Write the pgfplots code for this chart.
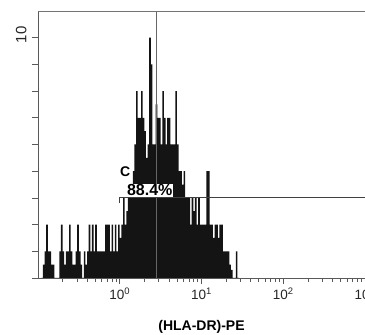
\documentclass[border=0pt]{standalone}
\usepackage{pgfplots}
\pgfplotsset{compat=1.18}
\usepackage{fontspec}
\setmainfont{Liberation Sans}
\begin{document}
\begin{tikzpicture}
\begin{axis}[
  at={(0pt,0pt)}, anchor=south west,
  width=327pt, height=267pt, scale only axis,
  xmin=-1, xmax=3, ymin=0, ymax=10,
  axis lines=left,
  axis line style={-, draw=black!65},
  tick style={draw=black!65, line width=0.6pt},
  tick align=outside,
  major tick length=6pt, minor tick length=4pt,
  xtick={0,1,2,3},
  xticklabels={10\textsuperscript{0},10\textsuperscript{1},10\textsuperscript{2},10\textsuperscript{3}},
  minor xtick={-0.699,-0.523,-0.398,-0.301,-0.222,-0.155,-0.097,-0.046,
               0.301,0.477,0.602,0.699,0.778,0.845,0.903,0.954,
               1.301,1.477,1.602,1.699,1.778,1.845,1.903,1.954,
               2.301,2.477,2.602,2.699,2.778,2.845,2.903,2.954},
  ytick={0,1,2,3,4,5,6,7,8,9},
  yticklabels={,,,,,,,,,10},
  yticklabel style={xshift=-2pt, yshift=3pt, rotate=90, anchor=south, font=\fontsize{15}{15}\selectfont, text=black!85},
  xticklabel style={font=\fontsize{13.5}{13.5}\selectfont, text=black!85},
  xlabel={\bfseries (HLA-DR)-PE},
  xlabel style={at={(axis description cs:0.5,0)}, anchor=center, yshift=-49pt, font=\fontsize{14}{14}\selectfont},
  clip=true,
]
\addplot[const plot, fill=black!92, draw=none] coordinates {
(-0.96,0) (-0.94,0.5) (-0.92,1) (-0.90,2) (-0.88,1) (-0.86,1) (-0.84,0.5) (-0.82,0.5)
(-0.80,0) (-0.78,0) (-0.76,0) (-0.74,1) (-0.72,2) (-0.70,1) (-0.68,0.5) (-0.66,1)
(-0.64,1) (-0.62,2) (-0.60,1) (-0.58,0.5) (-0.56,0.5) (-0.54,1) (-0.52,2) (-0.50,1)
(-0.48,0.5) (-0.46,0) (-0.44,1) (-0.42,0.5) (-0.40,1) (-0.38,2) (-0.36,1) (-0.34,2)
(-0.32,1) (-0.30,2) (-0.28,1) (-0.26,1) (-0.24,1) (-0.22,1) (-0.20,1) (-0.18,2)
(-0.16,2) (-0.14,2) (-0.12,1) (-0.10,2) (-0.08,1) (-0.06,2) (-0.04,1) (-0.02,2)
(0.00,1.5) (0.02,2) (0.04,3) (0.06,2) (0.08,2.5) (0.10,3) (0.12,3) (0.14,3)
(0.16,4) (0.18,5) (0.20,7) (0.22,6) (0.24,6) (0.26,7) (0.28,6) (0.30,5.5)
(0.32,4.5) (0.34,5) (0.36,9) (0.38,8) (0.40,5) (0.42,5) (0.44,6.5) (0.46,6)
(0.48,6) (0.50,5) (0.52,7) (0.54,6) (0.56,5) (0.58,6) (0.60,6) (0.62,5)
(0.64,5) (0.66,5) (0.68,7) (0.70,5) (0.72,4) (0.74,4) (0.76,3.5) (0.78,4)
(0.80,3) (0.82,3) (0.84,3) (0.86,2) (0.88,3) (0.90,2.5) (0.92,3) (0.94,2)
(0.96,3) (0.98,2) (1.00,2) (1.02,2) (1.04,2) (1.06,4) (1.08,4) (1.10,2)
(1.12,2) (1.14,1.5) (1.16,2) (1.18,2) (1.20,1.5) (1.22,2) (1.24,2) (1.26,1)
(1.28,1) (1.30,1) (1.32,1) (1.34,0.5) (1.36,0.3) (1.38,0) (1.40,0) (1.42,1)
(1.44,0) (1.46,0)
} \closedcycle;
% cursor line
\addplot[draw=black!60, line width=0.8pt] coordinates {(0.453,0) (0.453,10)};
% labels
\node[fill=white, inner sep=1.5pt, font=\fontsize{14}{14}\selectfont\bfseries] at (axis cs:0.067,3.97) {C};
\node[fill=white, inner sep=1pt, anchor=base, font=\fontsize{16}{16}\selectfont\bfseries] at (axis cs:0.367,3.08) {88.4\%};
% gate
\addplot[draw=black!75, line width=0.8pt] coordinates {(0,2.8) (0,3) (3,3)};
\draw[black!55, line width=0.6pt] (rel axis cs:0,1) -- (rel axis cs:1,1);
\end{axis}
\pgfresetboundingbox
\path[use as bounding box] (-38pt,-57pt) rectangle (327pt,278pt);
\end{tikzpicture}
\end{document}
